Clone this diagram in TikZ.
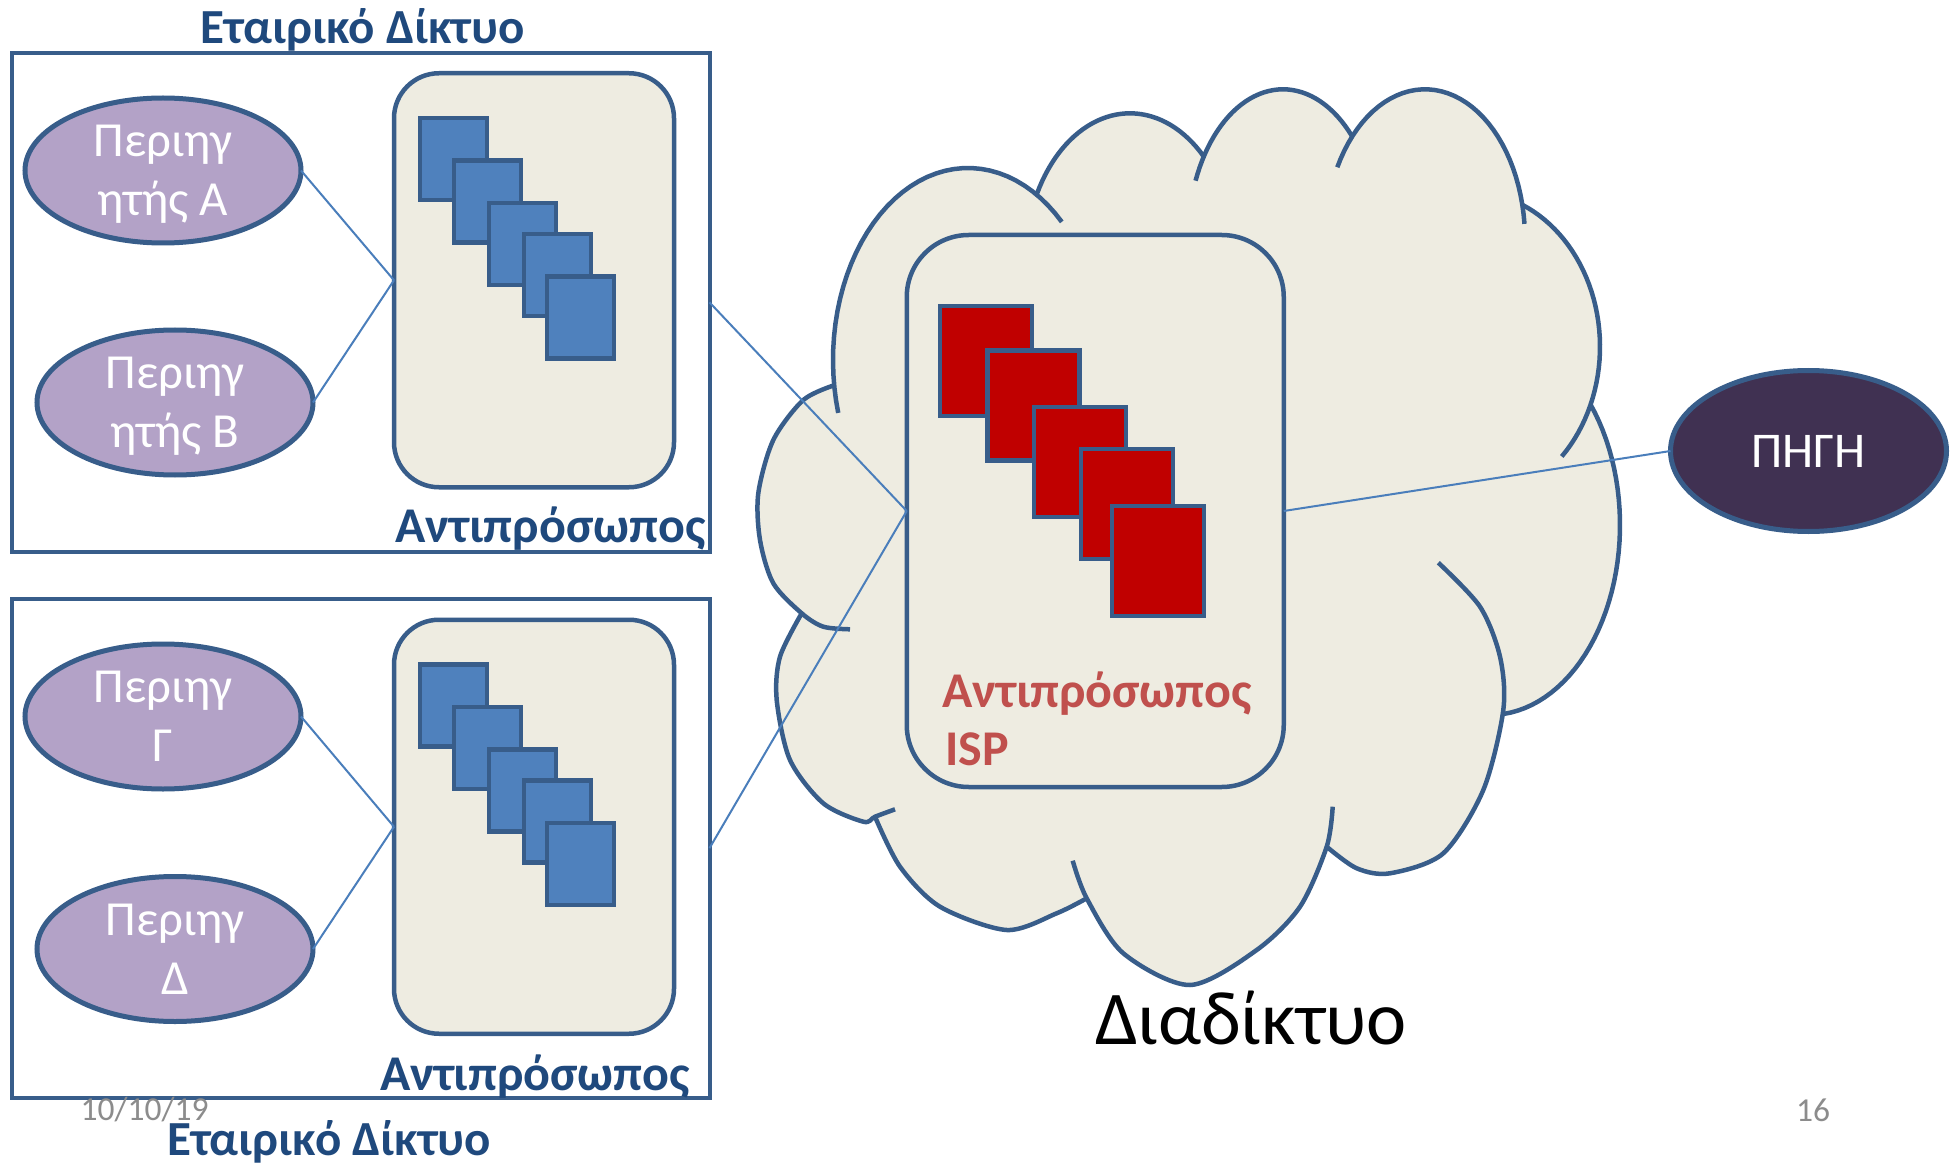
\documentclass[tikz,border=0pt]{standalone}
\usepackage{fontspec}
\setmainfont{Carlito}
\usetikzlibrary{shapes.geometric}

\definecolor{edge}{HTML}{385D8A}
\definecolor{link}{HTML}{4A7EBB}
\definecolor{paper}{HTML}{EEECE1}
\definecolor{boxblue}{HTML}{4F81BD}
\definecolor{boxred}{HTML}{C00000}
\definecolor{lilac}{HTML}{B3A2C7}
\definecolor{plum}{HTML}{403152}
\definecolor{navy}{HTML}{1F497D}
\definecolor{brick}{HTML}{C0504D}
\definecolor{slate}{HTML}{8C8C8C}

\begin{document}
\begin{tikzpicture}[x=1pt,y=-1pt,
  frame/.style={draw=edge, line width=4pt, inner sep=0pt, outer sep=0pt,
    minimum width=698pt, minimum height=499pt},
  proxybox/.style={draw=edge, fill=paper, line width=4.5pt, rounded corners=45pt,
    inner sep=0pt, outer sep=0pt, minimum width=280pt, minimum height=414pt},
  ispbox/.style={draw=edge, fill=paper, line width=4.5pt, rounded corners=62pt,
    inner sep=0pt, outer sep=0pt, minimum width=377pt, minimum height=552pt},
  bluesq/.style={draw=edge, fill=boxblue, line width=4.5pt, inner sep=0pt,
    minimum width=67pt, minimum height=82pt},
  redsq/.style={draw=edge, fill=boxred, line width=4.5pt, inner sep=0pt,
    minimum width=92pt, minimum height=110pt},
  client/.style={ellipse, draw=edge, fill=lilac, line width=5pt, inner sep=0pt,
    outer sep=0pt, minimum width=276pt, minimum height=145pt, align=center,
    text=white, font=\fontsize{49}{59}\selectfont},
  source/.style={ellipse, draw=edge, fill=plum, line width=5pt, inner sep=0pt,
    outer sep=0pt, minimum width=276pt, minimum height=161pt,
    text=white, font=\fontsize{50}{60}\selectfont},
  link/.style={draw=link, line width=2pt},
  cloudline/.style={draw=edge, line width=4.5pt},
  nettitle/.style={inner sep=0pt, text=navy, font=\bfseries\fontsize{49}{58}\selectfont},
  proxytitle/.style={inner sep=0pt, text=navy, font=\bfseries\fontsize{50}{60}\selectfont},
  isptitle/.style={inner sep=0pt, text=brick, font=\bfseries\fontsize{50}{60}\selectfont},
  footer/.style={inner sep=0pt, text=slate, font=\fontsize{33.5}{40}\selectfont},
  variable=\t, samples=40
]
\useasboundingbox (0,0) rectangle (1955,1166);
\fill[white] (0,0) rectangle (1955,1166);

% ---------- cloud (Internet) ----------
% body: lower lobes as smooth curves, upper lobes as elliptical arcs
\fill[paper]
  plot[smooth] coordinates {(835,385) (803.3,400) (773.3,440) (758.3,493.3) (760,540) (773.3,583.3) (801.7,613.3)}
  -- plot[smooth] coordinates {(801.7,613.3) (780,656.7) (776.7,700) (790,760) (823.3,803.3) (863.3,821.7) (875,816.7)}
  -- plot[smooth] coordinates {(875,816.7) (900,866.7) (940,906.7) (1006.7,930) (1056.7,913.3) (1086.7,898.3)}
  -- plot[smooth] coordinates {(1086.7,898.3) (1123.3,953.3) (1190,985) (1256.7,950) (1300,906.7) (1326.7,846.7)}
  -- plot[smooth] coordinates {(1326.7,846.7) (1356.7,868.3) (1390,873.3) (1443.3,853.3) (1483.3,790) (1503.3,710)}
  -- plot[domain=84:-39.4] ({1490+130*cos(\t)},{525+190*sin(\t)})
  -- plot[domain=22.2:-66.6] ({1470+130*cos(\t)},{346.7+155*sin(\t)})
  -- plot[domain=345.6:223.3] ({1425+100*cos(\t)},{239.3+150*sin(\t)})
  -- plot[domain=316.6:213.3] ({1283+95*cos(\t)},{239.3+150*sin(\t)})
  -- plot[domain=314.5:207.7] ({1130+105*cos(\t)},{263.3+150*sin(\t)})
  -- plot[domain=300.4:172.5] ({968+135*cos(\t)},{360+192*sin(\t)})
  -- cycle;
% lobe outlines, each running on a little past its neighbour to form the creases
\draw[cloudline] plot[smooth] coordinates {(835,385) (803.3,400) (773.3,440) (758.3,493.3) (760,540) (773.3,583.3) (801.7,613.3) (823.3,626.7) (850,629.3)};
\draw[cloudline] plot[smooth] coordinates {(801.7,613.3) (780,656.7) (776.7,700) (790,760) (823.3,803.3) (863.3,821.7) (875,816.7) (895,809.3)};
\draw[cloudline] plot[smooth] coordinates {(875,816.7) (900,866.7) (940,906.7) (1006.7,930) (1056.7,913.3) (1086.7,898.3)};
\draw[cloudline] plot[smooth] coordinates {(1072.7,860.7) (1086.7,898.3) (1123.3,953.3) (1190,985) (1256.7,950) (1300,906.7) (1326.7,846.7) (1332.7,806.7)};
\draw[cloudline] plot[smooth] coordinates {(1326.7,846.7) (1356.7,868.3) (1390,873.3) (1443.3,853.3) (1483.3,790) (1503.3,710) (1500,656.7) (1480,606.7) (1438.3,562.7)};
\draw[cloudline] plot[domain=-39.4:84] ({1490+130*cos(\t)},{525+190*sin(\t)});
\draw[cloudline] plot[domain=-66.6:45.1] ({1470+130*cos(\t)},{346.7+155*sin(\t)});
\draw[cloudline] plot[domain=208.7:354.1] ({1425+100*cos(\t)},{239.3+150*sin(\t)});
\draw[cloudline] plot[domain=203:316.6] ({1283+95*cos(\t)},{239.3+150*sin(\t)});
\draw[cloudline] plot[domain=207.7:314.5] ({1130+105*cos(\t)},{263.3+150*sin(\t)});
\draw[cloudline] plot[domain=164:314] ({968+135*cos(\t)},{360+192*sin(\t)});

% ---------- ISP proxy ----------
\node[ispbox] (isp) at (1095.25,511) {};
\node[redsq] (r1) at (986,361) {};
\node[redsq] (r2) at (1033.6,405.3) {};
\node[redsq] (r3) at (1080,461.8) {};
\node[redsq] (r4) at (1127,504) {};
\node[redsq] (r5) at (1158,561) {};
\node[isptitle, anchor=base west] (ispl1) at (942,707.6) {Αντιπρόσωπος};
\node[isptitle, anchor=base west] (ispl2) at (945,765) {ISP};
\node[inner sep=0pt, font=\fontsize{76}{90}\selectfont, anchor=base] (net) at (1251,1044) {Διαδίκτυο};

% ---------- source ----------
\node[source] (src) at (1808.5,451) {ΠΗΓΗ};

% ---------- upper corporate network ----------
\node[frame] (lan1) at (360.5,302.35) {};
\node[nettitle, anchor=base] (lan1t) at (362.5,44) {Εταιρικό Δίκτυο};
\node[proxybox] (px1) at (534,280.25) {};
\node[bluesq] (a1) at (453.5,159) {};
\node[bluesq] (a2) at (487.5,201.5) {};
\node[bluesq] (a3) at (522.5,244) {};
\node[bluesq] (a4) at (557.5,275) {};
\node[bluesq] (a5) at (580.5,317.5) {};
\node[proxytitle, anchor=base] (px1t) at (550.5,542.8) {Αντιπρόσωπος};
\node[client] (ca) at (163,170.5) {Περιηγ\\\smash{ητής A}};
\node[client] (cb) at (175,402.5) {Περιηγ\\\smash{ητής B}};

% ---------- lower corporate network ----------
\node[frame] (lan2) at (360.5,848.15) {};
\node[nettitle, anchor=base] (lan2t) at (329,1155) {Εταιρικό Δίκτυο};
\node[proxybox] (px2) at (534,826.75) {};
\node[bluesq] (b1) at (453.5,705.5) {};
\node[bluesq] (b2) at (487.5,748) {};
\node[bluesq] (b3) at (522.5,790.5) {};
\node[bluesq] (b4) at (557.5,821.5) {};
\node[bluesq] (b5) at (580.5,864) {};
\node[proxytitle, anchor=base] (px2t) at (535,1090) {Αντιπρόσωπος};
\node[client] (cg) at (163,716.5) {Περιηγ\\\smash{Γ}};
\node[client] (cd) at (175,949) {Περιηγ\\\smash{Δ}};

% ---------- links ----------
\draw[link] (ca.east) -- (px1.west);
\draw[link] (cb.east) -- (px1.west);
\draw[link] (cg.east) -- (px2.west);
\draw[link] (cd.east) -- (px2.west);
\draw[link] (lan1.east) -- (isp.west);
\draw[link] (lan2.east) -- (isp.west);
\draw[link] (isp.east) -- (src.west);

% ---------- footer ----------
\node[footer, anchor=base] (date) at (144.6,1120.5) {10/10/19};
\node[footer, anchor=base] (page) at (1813,1121) {16};
\end{tikzpicture}
\end{document}
